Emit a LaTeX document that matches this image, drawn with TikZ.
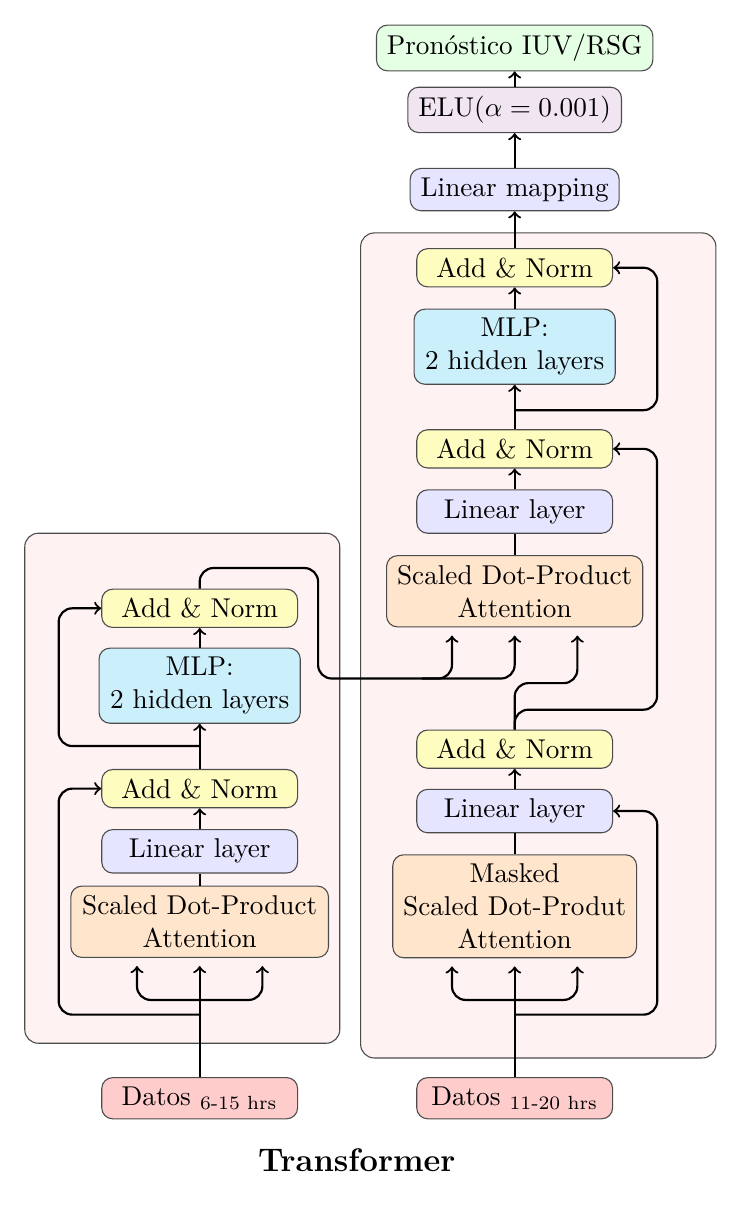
\documentclass[tikz,border=0pt]{standalone}
\usepackage{amsmath}
\usetikzlibrary{positioning,calc}
\begin{document}
\begin{tikzpicture}[
  block/.style={draw=black!70, rounded corners=4pt, align=center},
  addnorm/.style={block, fill=yellow!25, minimum width=2.53cm, minimum height=0.49cm},
  linbox/.style={block, fill=blue!10, minimum width=2.53cm, minimum height=0.56cm},
  mlp/.style={block, fill=cyan!20, minimum width=2.60cm, minimum height=0.97cm},
  attn/.style={block, fill=orange!20, minimum height=0.92cm},
  datos/.style={block, fill=red!20, minimum width=2.53cm, minimum height=0.53cm},
  panel/.style={draw=black!70, fill=red!5, rounded corners=5pt},
  link/.style={->, thick, rounded corners=5pt},
]

\def\XE{2.58}
\def\XD{6.65}

\useasboundingbox (0,0) rectangle (9.59,-15.57);

% panels
\draw[panel] (0.32,-6.89) rectangle (4.39,-13.48);
\draw[panel] (4.66,-3.01) rectangle (9.25,-13.67);

% output side
\node at (\XD,-0.62) [block, fill=green!10, minimum width=3.57cm, minimum height=0.59cm] (out) {Pronóstico IUV/RSG};
\node at (\XD,-1.42) [block, fill=violet!10, minimum width=2.76cm, minimum height=0.58cm] (elu) {ELU($\alpha=0.001$)};
\node at (\XD,-2.45) [block, fill=blue!10, minimum width=2.70cm, minimum height=0.54cm] (linmap) {Linear mapping};

% encoder
\node at (\XE,-7.86) [addnorm] (encAN2) {Add \& Norm};
\node at (\XE,-8.86) [mlp] (encMLP) {MLP:\\2 hidden layers};
\node at (\XE,-10.19) [addnorm] (encAN1) {Add \& Norm};
\node at (\XE,-11.00) [linbox] (encLin) {Linear layer};
\node at (\XE,-11.91) [attn, minimum width=3.33cm] (encAtt) {Scaled Dot-Product\\Attention};
\node at (\XE,-14.19) [datos] (datE) {Datos $_{\text{6-15 hrs}}$};

% decoder
\node at (\XD,-3.46) [addnorm] (decAN3) {Add \& Norm};
\node at (\XD,-4.48) [mlp] (decMLP) {MLP:\\2 hidden layers};
\node at (\XD,-5.80) [addnorm] (decAN2) {Add \& Norm};
\node at (\XD,-6.61) [linbox] (decLin2) {Linear layer};
\node at (\XD,-7.64) [attn, minimum width=3.31cm] (decAtt2) {Scaled Dot-Product\\Attention};
\node at (\XD,-9.68) [addnorm] (decAN1) {Add \& Norm};
\node at (\XD,-10.48) [linbox] (decLin1) {Linear layer};
\node at (\XD,-11.71) [attn, minimum width=3.15cm, minimum height=1.33cm] (decAtt1) {Masked\\Scaled Dot-Produt\\Attention};
\node at (\XD,-14.19) [datos] (datD) {Datos $_{\text{11-20 hrs}}$};

\node at (4.61,-14.99) (title) {\large\bfseries Transformer};

% branch points
\coordinate (eb) at (\XE,-12.92);
\coordinate (er1) at (\XE,-13.11);
\coordinate (er2) at (\XE,-9.64);
\coordinate (ex) at (4.11,-7.34);
\coordinate (db) at (\XD,-12.92);
\coordinate (dr1) at (\XD,-13.11);
\coordinate (dr2) at (8.49,-9.17);
\coordinate (dr3) at (\XD,-5.30);

% encoder links
\draw[link, shorten >=3pt] (datE.north) -- (encAtt.south);
\draw[link, shorten >=3pt] (eb) -| ($(encAtt.south)+(-0.81,0)$);
\draw[link, shorten >=3pt] (eb) -| ($(encAtt.south)+(0.81,0)$);
\draw[link] (er1) -| ([xshift=-0.55cm]encAN1.west) -- (encAN1.west);
\draw[thick] (encAtt) -- (encLin);
\draw[link] (encLin) -- (encAN1);
\draw[link] (encAN1) -- (encMLP);
\draw[link] (er2) -| ([xshift=-0.55cm]encAN2.west) -- (encAN2.west);
\draw[link] (encMLP) -- (encAN2);
\draw[link, shorten >=3pt] (encAN2.north) |- (ex) |- ($(decAtt2.south)+(-0.81,-0.66)$) -- ($(decAtt2.south)+(-0.81,0)$);
\draw[link, shorten >=3pt] ($(decAtt2.south)+(-1.2,-0.66)$) -| (decAtt2.south);

% decoder links
\draw[link, shorten >=3pt] (datD.north) -- (decAtt1.south);
\draw[link, shorten >=3pt] (db) -| ($(decAtt1.south)+(-0.81,0)$);
\draw[link, shorten >=3pt] (db) -| ($(decAtt1.south)+(0.81,0)$);
\draw[link] (dr1) -| ([xshift=0.57cm]decLin1.east) -- (decLin1.east);
\draw[thick] (decAtt1) -- (decLin1);
\draw[link] (decLin1) -- (decAN1);
\draw[link, shorten >=3pt] (decAN1.north) |- ($(decAtt2.south)+(0.81,-0.72)$) -- ($(decAtt2.south)+(0.81,0)$);
\draw[link] (decAN1.north) |- (dr2) |- (decAN2.east);
\draw[thick] (decAtt2) -- (decLin2);
\draw[link] (decLin2) -- (decAN2);
\draw[link] (decAN2) -- (decMLP);
\draw[link] (dr3) -| ([xshift=0.57cm]decAN3.east) -- (decAN3.east);
\draw[link] (decMLP) -- (decAN3);
\draw[link] (decAN3) -- (linmap);
\draw[link] (linmap) -- (elu);
\draw[link] (elu) -- (out);

\end{tikzpicture}
\end{document}
